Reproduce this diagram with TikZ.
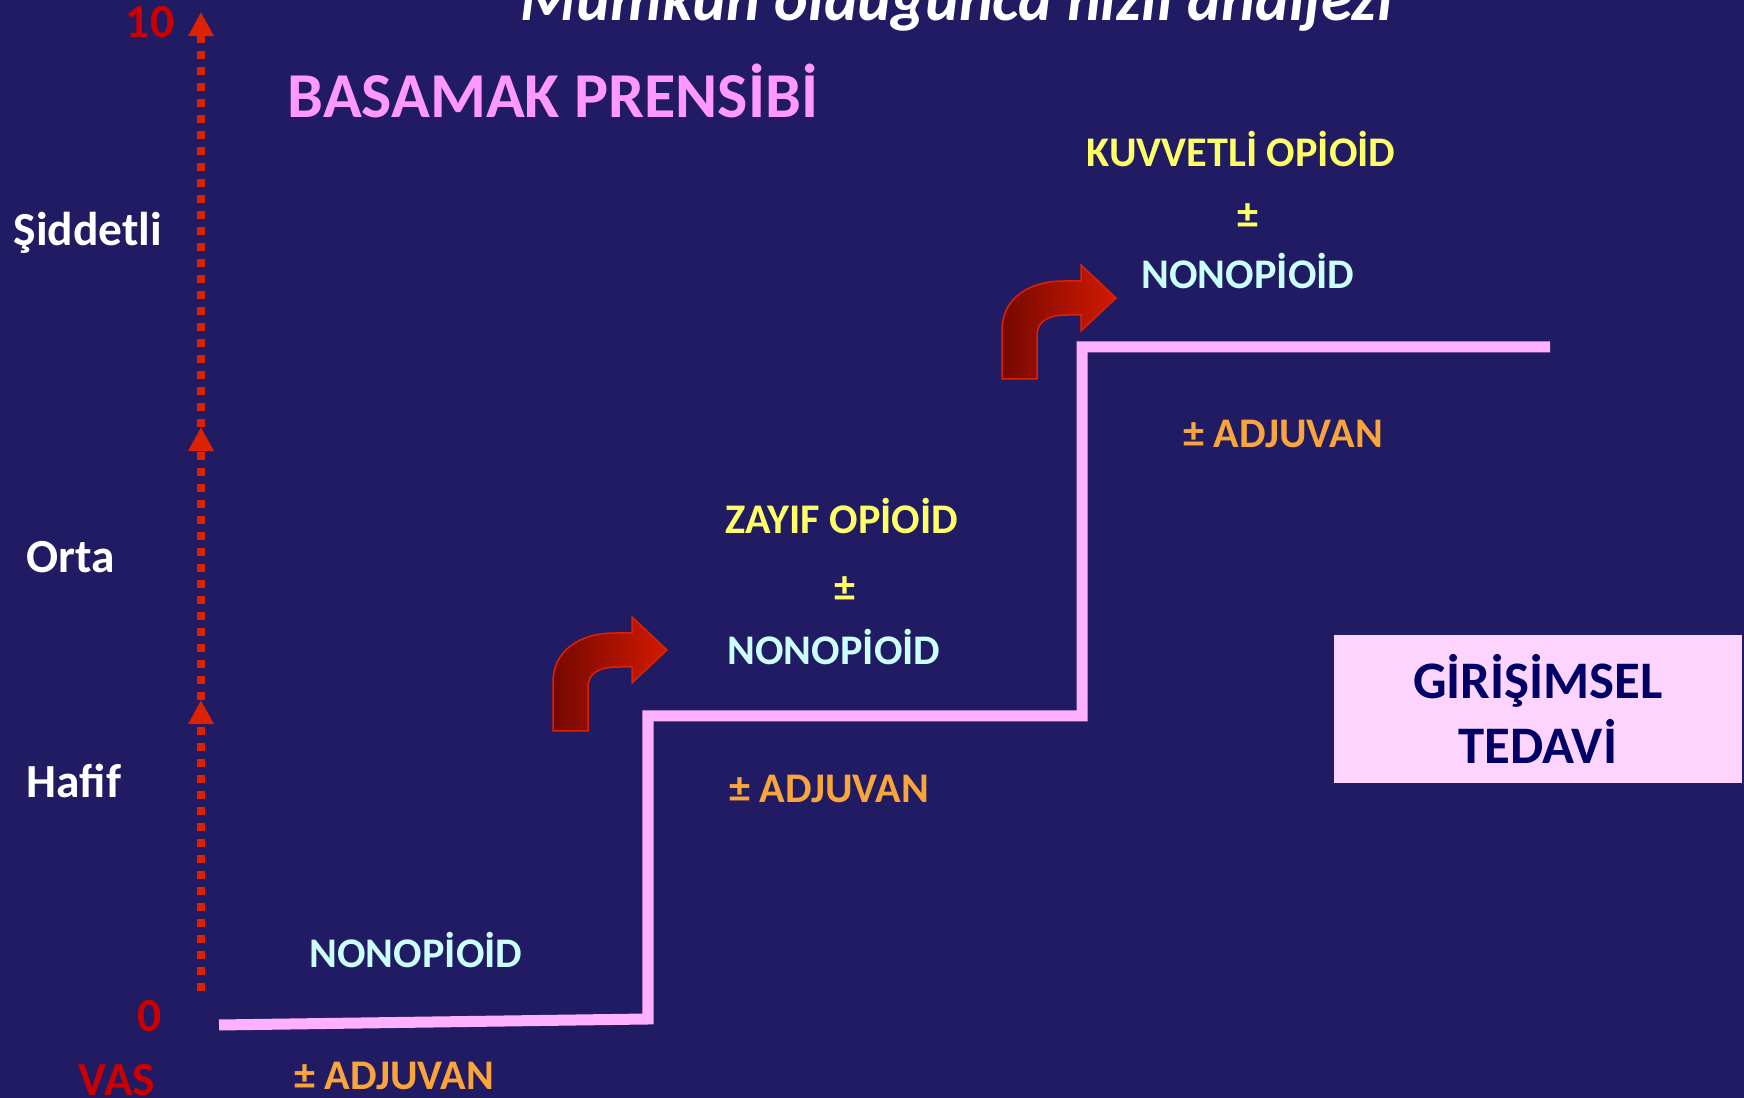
\documentclass[tikz,border=0pt]{standalone}
\usepackage{fontspec}
\setmainfont{Carlito}
\usetikzlibrary{arrows.meta}

\definecolor{slidebg}{RGB}{32,27,98}
\definecolor{vasred}{RGB}{204,0,0}
\definecolor{axisred}{RGB}{221,34,0}
\definecolor{titlepink}{RGB}{255,153,255}
\definecolor{steppink}{RGB}{255,176,255}
\definecolor{opyellow}{RGB}{255,255,102}
\definecolor{nonopcyan}{RGB}{204,255,255}
\definecolor{adjorange}{RGB}{250,165,60}
\definecolor{boxpink}{RGB}{253,212,253}
\definecolor{boxnavy}{RGB}{0,0,102}
\definecolor{arrowdark}{RGB}{118,8,0}
\definecolor{arrowlight}{RGB}{210,26,0}

\begin{document}
\begin{tikzpicture}[x=0.01cm, y=-0.01cm,
  txt/.style={anchor=base, inner sep=0pt, font=\bfseries\fontsize{12}{14}\selectfont},
  opioid/.style={txt, text=opyellow},
  nonop/.style={txt, text=nonopcyan},
  adjuvan/.style={txt, text=adjorange},
  level/.style={anchor=base west, inner sep=0pt, text=white, font=\bfseries\fontsize{13.5}{16}\selectfont},
  vasnum/.style={anchor=base, inner sep=0pt, text=vasred, font=\bfseries\fontsize{13.5}{16}\selectfont},
  axis/.style={axisred, line width=0.08cm, dash pattern=on 0.08cm off 0.08cm,
    -{Triangle[width=0.24cm,length=0.24cm]}},
  stepline/.style={steppink, line width=0.11cm, line join=miter},
  bendarrow/.style={left color=arrowdark, right color=arrowlight, draw=axisred, line width=0.015cm},
  girbox/.style={fill=boxpink, text=boxnavy, align=center, minimum width=4.07cm, minimum height=1.48cm,
    inner sep=0pt, font=\bfseries\fontsize{15}{18.5}\selectfont}]

  % Background of the slide
  \fill[slidebg] (0,0) rectangle (1744,1098);
  \useasboundingbox (0,0) rectangle (1744,1098);
  \clip (0,0) rectangle (1744,1098);

  % Title, cut at the top edge
  \node (baslik) at (957,21) [anchor=base, inner sep=0pt, text=white,
    font=\bfseries\itshape\fontsize{18.2}{20}\selectfont] {Mümkün olduğunca hızlı analjezi};
  \node (prensip) at (287,118) [anchor=base west, inner sep=0pt, text=titlepink,
    font=\bfseries\fontsize{18.2}{20}\selectfont] {BASAMAK PRENSİBİ};

  % VAS axis with three dashed arrows
  \coordinate (vas0) at (201,991);
  \coordinate (hafiftop) at (201,700);
  \coordinate (ortatop) at (201,427);
  \coordinate (vas10) at (201,12);
  \draw[axis] (vas0) -- (hafiftop);
  \draw[axis] (hafiftop) -- (ortatop);
  \draw[axis] (ortatop) -- (vas10);

  % Axis labels
  \node (on) at (150,38) [vasnum] {10};
  \node (sifir) at (150,1032) [vasnum] {0};
  \node (vas) at (117,1096) [vasnum] {VAS};
  \node (siddetli) at (13,246) [level] {Şiddetli};
  \node (orta) at (26,573) [level] {Orta};
  \node (hafif) at (26,798) [level] {Hafif};

  % The steps
  \draw[stepline] (219,1025) -- (648,1019) -- (648,716) -- (1082,716) -- (1082,347) -- (1550,347);

  % Bent arrows up to the next step
  \foreach \dx/\dy in {0/0, 449/-352}
    \filldraw[bendarrow, shift={(\dx,\dy)}] (553,731) -- (553,682)
      .. controls (553,652) and (578,633) .. (615,633) -- (632,633) -- (632,617)
      -- (667,650) -- (632,683) -- (632,667) -- (620,667)
      .. controls (600,667) and (588,672) .. (588,688) -- (588,731) -- cycle;

  % Step 1
  \node (nonop1) at (416,968) [nonop] {NONOPİOİD};
  \node (adj1) at (394,1090) [adjuvan] {± ADJUVAN};

  % Step 2
  \node (zayif) at (842,534) [opioid] {ZAYIF OPİOİD};
  \node (pm2) at (845,602) [opioid] {±};
  \node (nonop2) at (834,665) [nonop] {NONOPİOİD};
  \node (adj2) at (829,803) [adjuvan] {± ADJUVAN};

  % Step 3
  \node (kuvvetli) at (1241,167) [opioid] {KUVVETLİ OPİOİD};
  \node (pm3) at (1248,229) [opioid] {±};
  \node (nonop3) at (1248,289) [nonop] {NONOPİOİD};
  \node (adj3) at (1283,448) [adjuvan] {± ADJUVAN};

  % Interventional treatment box
  \node (girisim) at (1538,709) [girbox] {GİRİŞİMSEL\\TEDAVİ};
\end{tikzpicture}
\end{document}
